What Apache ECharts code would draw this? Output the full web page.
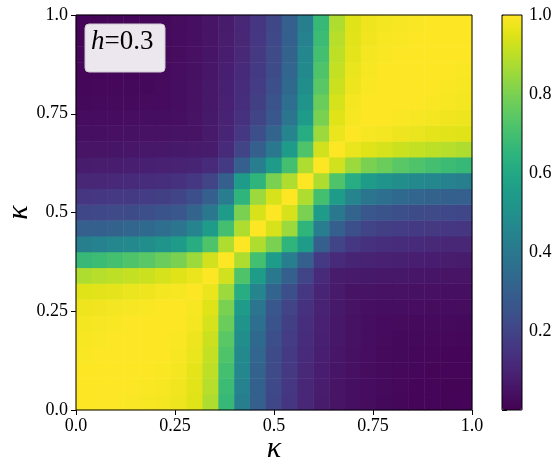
<!DOCTYPE html>
<html>
<head>
<meta charset="utf-8">
<script src="https://cdn.jsdelivr.net/npm/echarts@6/dist/echarts.min.js"></script>
<style>
  html, body { margin: 0; padding: 0; background: #fff; }
  #chart { width: 558px; height: 472px; }
</style>
</head>
<body>
<div id="chart"></div>
<script>
// kappa cell centres (same grid on both axes)
const kappaCells = ['0.02', '0.06', '0.10', '0.14', '0.18', '0.22', '0.26', '0.30', '0.34', '0.38', '0.42', '0.46', '0.50',
  '0.54', '0.58', '0.62', '0.66', '0.70', '0.74', '0.78', '0.82', '0.86', '0.90', '0.94', '0.98'];

// fidelity values, one row per kappa on the y axis (bottom row first)
const fidelityRows = [
  [1.00, 1.00, 1.00, 0.995, 0.99, 0.985, 0.975, 0.95, 0.88, 0.67, 0.43, 0.30, 0.21, 0.155, 0.11, 0.075, 0.052, 0.038, 0.03, 0.023, 0.018, 0.014, 0.012, 0.01, 0.009],
  [1.00, 1.00, 1.00, 1.00, 0.995, 0.99, 0.98, 0.955, 0.89, 0.68, 0.44, 0.305, 0.215, 0.16, 0.11, 0.078, 0.054, 0.04, 0.031, 0.024, 0.019, 0.015, 0.012, 0.01, 0.01],
  [1.00, 1.00, 1.00, 1.00, 1.00, 0.995, 0.985, 0.96, 0.90, 0.70, 0.46, 0.315, 0.22, 0.165, 0.115, 0.08, 0.056, 0.042, 0.032, 0.025, 0.02, 0.016, 0.013, 0.012, 0.012],
  [0.995, 1.00, 1.00, 1.00, 1.00, 1.00, 0.99, 0.97, 0.91, 0.72, 0.47, 0.325, 0.23, 0.17, 0.12, 0.085, 0.06, 0.044, 0.034, 0.026, 0.021, 0.017, 0.016, 0.015, 0.014],
  [0.99, 0.995, 1.00, 1.00, 1.00, 1.00, 0.995, 0.975, 0.92, 0.74, 0.49, 0.34, 0.24, 0.175, 0.125, 0.088, 0.062, 0.046, 0.035, 0.027, 0.022, 0.021, 0.02, 0.019, 0.018],
  [0.985, 0.99, 0.995, 1.00, 1.00, 1.00, 1.00, 0.985, 0.935, 0.77, 0.51, 0.36, 0.255, 0.185, 0.13, 0.092, 0.065, 0.048, 0.036, 0.028, 0.027, 0.026, 0.025, 0.024, 0.023],
  [0.975, 0.98, 0.985, 0.99, 0.995, 1.00, 1.00, 0.99, 0.95, 0.80, 0.55, 0.39, 0.27, 0.20, 0.14, 0.097, 0.068, 0.05, 0.038, 0.036, 0.035, 0.034, 0.032, 0.031, 0.03],
  [0.95, 0.955, 0.96, 0.97, 0.975, 0.985, 0.99, 1.00, 0.97, 0.85, 0.62, 0.45, 0.32, 0.24, 0.16, 0.10, 0.07, 0.05, 0.05, 0.048, 0.046, 0.044, 0.042, 0.04, 0.038],
  [0.88, 0.89, 0.90, 0.91, 0.92, 0.935, 0.95, 0.97, 1.00, 0.93, 0.72, 0.55, 0.40, 0.30, 0.20, 0.12, 0.075, 0.07, 0.068, 0.065, 0.062, 0.06, 0.056, 0.054, 0.052],
  [0.67, 0.68, 0.70, 0.72, 0.74, 0.77, 0.80, 0.85, 0.93, 1.00, 0.88, 0.70, 0.55, 0.42, 0.30, 0.17, 0.12, 0.10, 0.097, 0.092, 0.088, 0.085, 0.08, 0.078, 0.075],
  [0.43, 0.44, 0.46, 0.47, 0.49, 0.51, 0.55, 0.62, 0.72, 0.88, 1.00, 0.88, 0.80, 0.65, 0.55, 0.30, 0.20, 0.16, 0.14, 0.13, 0.125, 0.12, 0.115, 0.11, 0.11],
  [0.30, 0.305, 0.315, 0.325, 0.34, 0.36, 0.39, 0.45, 0.55, 0.70, 0.88, 1.00, 0.94, 0.85, 0.65, 0.42, 0.30, 0.24, 0.20, 0.185, 0.175, 0.17, 0.165, 0.16, 0.155],
  [0.21, 0.215, 0.22, 0.23, 0.24, 0.255, 0.27, 0.32, 0.40, 0.55, 0.80, 0.94, 1.00, 0.94, 0.80, 0.55, 0.40, 0.32, 0.27, 0.255, 0.24, 0.23, 0.22, 0.215, 0.21],
  [0.155, 0.16, 0.165, 0.17, 0.175, 0.185, 0.20, 0.24, 0.30, 0.42, 0.65, 0.85, 0.94, 1.00, 0.88, 0.70, 0.55, 0.45, 0.39, 0.36, 0.34, 0.325, 0.315, 0.305, 0.30],
  [0.11, 0.11, 0.115, 0.12, 0.125, 0.13, 0.14, 0.16, 0.20, 0.30, 0.55, 0.65, 0.80, 0.88, 1.00, 0.88, 0.72, 0.62, 0.55, 0.51, 0.49, 0.47, 0.46, 0.44, 0.43],
  [0.075, 0.078, 0.08, 0.085, 0.088, 0.092, 0.097, 0.10, 0.12, 0.17, 0.30, 0.42, 0.55, 0.70, 0.88, 1.00, 0.93, 0.85, 0.80, 0.77, 0.74, 0.72, 0.70, 0.68, 0.67],
  [0.052, 0.054, 0.056, 0.06, 0.062, 0.065, 0.068, 0.07, 0.075, 0.12, 0.20, 0.30, 0.40, 0.55, 0.72, 0.93, 1.00, 0.97, 0.95, 0.935, 0.92, 0.91, 0.90, 0.89, 0.88],
  [0.038, 0.04, 0.042, 0.044, 0.046, 0.048, 0.05, 0.05, 0.07, 0.10, 0.16, 0.24, 0.32, 0.45, 0.62, 0.85, 0.97, 1.00, 0.99, 0.985, 0.975, 0.97, 0.96, 0.955, 0.95],
  [0.03, 0.031, 0.032, 0.034, 0.035, 0.036, 0.038, 0.05, 0.068, 0.097, 0.14, 0.20, 0.27, 0.39, 0.55, 0.80, 0.95, 0.99, 1.00, 1.00, 0.995, 0.99, 0.985, 0.98, 0.975],
  [0.023, 0.024, 0.025, 0.026, 0.027, 0.028, 0.036, 0.048, 0.065, 0.092, 0.13, 0.185, 0.255, 0.36, 0.51, 0.77, 0.935, 0.985, 1.00, 1.00, 1.00, 1.00, 0.995, 0.99, 0.985],
  [0.018, 0.019, 0.02, 0.021, 0.022, 0.027, 0.035, 0.046, 0.062, 0.088, 0.125, 0.175, 0.24, 0.34, 0.49, 0.74, 0.92, 0.975, 0.995, 1.00, 1.00, 1.00, 1.00, 0.995, 0.99],
  [0.014, 0.015, 0.016, 0.017, 0.021, 0.026, 0.034, 0.044, 0.06, 0.085, 0.12, 0.17, 0.23, 0.325, 0.47, 0.72, 0.91, 0.97, 0.99, 1.00, 1.00, 1.00, 1.00, 1.00, 0.995],
  [0.012, 0.012, 0.013, 0.016, 0.02, 0.025, 0.032, 0.042, 0.056, 0.08, 0.115, 0.165, 0.22, 0.315, 0.46, 0.70, 0.90, 0.96, 0.985, 0.995, 1.00, 1.00, 1.00, 1.00, 1.00],
  [0.01, 0.01, 0.012, 0.015, 0.019, 0.024, 0.031, 0.04, 0.054, 0.078, 0.11, 0.16, 0.215, 0.305, 0.44, 0.68, 0.89, 0.955, 0.98, 0.99, 0.995, 1.00, 1.00, 1.00, 1.00],
  [0.009, 0.01, 0.012, 0.014, 0.018, 0.023, 0.03, 0.038, 0.052, 0.075, 0.11, 0.155, 0.21, 0.30, 0.43, 0.67, 0.88, 0.95, 0.975, 0.985, 0.99, 0.995, 1.00, 1.00, 1.00]
];

const axisTickLabels = ['0.0', '0.25', '0.5', '0.75', '1.0'];
const colorbarTickLabels = ['', '0.2', '0.4', '0.6', '0.8', '1.0'];

const viridis = ['#440154', '#471365', '#482475', '#463480', '#414487', '#3b528b', '#355f8d',
  '#2f6c8e', '#2a788e', '#25848e', '#21918c', '#1e9c89', '#22a884', '#2fb47c', '#44bf70',
  '#5ec962', '#7ad151', '#9bd93c', '#bddf26', '#dfe318', '#fde725'];

const serif = 'Liberation Serif';

// flatten rows into [x index, y index, value]
let cells = [];
fidelityRows.forEach(function (row, j) {
  row.forEach(function (v, i) {
    cells.push([i, j, v]);
  });
});

let myChart = echarts.init(document.getElementById('chart'));

let tickStyle = { show: true, length: 5, inside: false, lineStyle: { color: '#000', width: 1 } };

let option = {
  backgroundColor: '#fff',
  animation: false,
  grid: [
    { left: 76, top: 15, width: 396, height: 395, outerBoundsMode: 'none' },
    { left: 502, top: 15, width: 20, height: 395, outerBoundsMode: 'none' }
  ],
  xAxis: [
    { gridIndex: 0, type: 'category', data: kappaCells, show: false },
    {
      gridIndex: 0, type: 'value', min: 0, max: 1, interval: 0.25, position: 'bottom',
      axisLine: { show: false }, axisTick: tickStyle, splitLine: { show: false },
      axisLabel: {
        margin: 7, color: '#000', fontFamily: serif, fontSize: 18,
        formatter: function (v) { return axisTickLabels[Math.round(v / 0.25)]; }
      },
      name: 'κ', nameLocation: 'middle', nameGap: 24, nameMoveOverlap: false,
      nameTextStyle: { color: '#000', fontFamily: serif, fontStyle: 'italic', fontSize: 30 }
    },
    { gridIndex: 1, type: 'value', min: 0, max: 1, show: false }
  ],
  yAxis: [
    { gridIndex: 0, type: 'category', data: kappaCells, show: false },
    {
      gridIndex: 0, type: 'value', min: 0, max: 1, interval: 0.25, position: 'left',
      axisLine: { show: false }, axisTick: tickStyle, splitLine: { show: false },
      axisLabel: {
        margin: 8, color: '#000', fontFamily: serif, fontSize: 18,
        formatter: function (v) { return axisTickLabels[Math.round(v / 0.25)]; }
      },
      name: 'κ', nameLocation: 'middle', nameGap: 42, nameRotate: 90, nameMoveOverlap: false,
      nameTextStyle: { color: '#000', fontFamily: serif, fontStyle: 'italic', fontSize: 30 }
    },
    {
      gridIndex: 1, type: 'value', min: 0, max: 1, interval: 0.2, position: 'right',
      axisLine: { show: false }, axisTick: tickStyle, splitLine: { show: false },
      axisLabel: {
        margin: 7, color: '#000', fontFamily: serif, fontSize: 18,
        formatter: function (v) { return colorbarTickLabels[Math.round(v / 0.2)]; }
      }
    }
  ],
  visualMap: {
    type: 'continuous',
    min: 0,
    max: 1,
    seriesIndex: 0,
    orient: 'vertical',
    left: 502,
    top: 15,
    padding: 0,
    itemWidth: 20,
    itemHeight: 395,
    calculable: false,
    hoverLink: false,
    text: null,
    inRange: { color: viridis }
  },
  graphic: [
    { type: 'rect', z: 100, shape: { x: 76, y: 15, width: 396, height: 395 },
      style: { fill: 'none', stroke: '#000', lineWidth: 1 } },
    { type: 'rect', z: 100, shape: { x: 502, y: 15, width: 20, height: 395 },
      style: { fill: 'none', stroke: '#000', lineWidth: 1 } },
    { type: 'rect', z: 101, shape: { x: 85, y: 24, width: 80, height: 48, r: 4 },
      style: { fill: '#ece6ee', stroke: '#cccccc', lineWidth: 1 } },
    { type: 'text', z: 102, left: 91, top: 28,
      style: {
        text: '{i|h}=0.3',
        rich: {
          i: { fontFamily: serif, fontStyle: 'italic', fontSize: 27, fill: '#000' }
        },
        font: '27px ' + serif,
        fill: '#000'
      } }
  ],
  series: [
    {
      type: 'heatmap',
      xAxisIndex: 0,
      yAxisIndex: 0,
      data: cells,
      progressive: 0,
      emphasis: { disabled: true }
    }
  ]
};

myChart.setOption(option);
</script>
</body>
</html>
